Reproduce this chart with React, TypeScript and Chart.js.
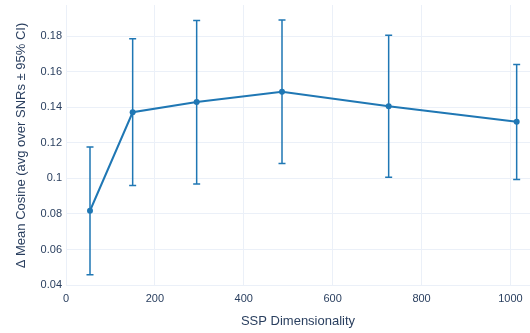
import React, { useEffect, useRef } from "react";
import { Chart, registerables } from "chart.js";

Chart.register(...registerables);

const dims = [54, 150, 294, 486, 726, 1014];
const meanDelta = [0.0818, 0.1372, 0.1429, 0.1487, 0.1406, 0.1318];
const ciLow = [0.0458, 0.096, 0.0969, 0.1084, 0.1007, 0.0994];
const ciHigh = [0.1176, 0.1785, 0.1888, 0.189, 0.1805, 0.164];
const xTicks = [0, 200, 400, 600, 800, 1000];
const yTicks = [0.04, 0.06, 0.08, 0.1, 0.12, 0.14, 0.16, 0.18];

const COLOR = "#1f77b4";
const TEXT = "#2a3f5f";
const GRID = "#ebf0f8";
const FONT = "'Liberation Sans', Arial, Helvetica, sans-serif";

const errorBars = {
  id: "errorBars",
  beforeDatasetsDraw(chart: any) {
    const { ctx, scales } = chart;
    const xs = scales.x;
    const ys = scales.y;
    ctx.save();
    ctx.strokeStyle = COLOR;
    ctx.lineWidth = 1.5;
    for (let i = 0; i < dims.length; i++) {
      const px = xs.getPixelForValue(dims[i]);
      const pLo = ys.getPixelForValue(ciLow[i]);
      const pHi = ys.getPixelForValue(ciHigh[i]);
      ctx.beginPath();
      ctx.moveTo(px, pLo);
      ctx.lineTo(px, pHi);
      ctx.moveTo(px - 3.5, pLo);
      ctx.lineTo(px + 3.5, pLo);
      ctx.moveTo(px - 3.5, pHi);
      ctx.lineTo(px + 3.5, pHi);
      ctx.stroke();
    }
    ctx.restore();
  },
};

export default function App() {
  const ref = useRef<HTMLCanvasElement | null>(null);
  useEffect(() => {
    if (!ref.current) return;
    const chart = new Chart(ref.current, {
      type: "line",
      data: {
        datasets: [
          {
            data: dims.map((d, i) => ({ x: d, y: meanDelta[i] })),
            borderColor: COLOR,
            backgroundColor: COLOR,
            borderWidth: 2,
            pointRadius: 3,
            pointBorderWidth: 0,
            tension: 0,
            clip: false,
          },
        ],
      },
      options: {
        animation: false,
        responsive: true,
        maintainAspectRatio: false,
        layout: { autoPadding: false, padding: { top: 5, right: 0, left: 0, bottom: 0 } },
        plugins: { legend: { display: false }, tooltip: { enabled: false } },
        scales: {
          x: {
            type: "linear",
            min: 0,
            max: 1044,
            afterBuildTicks: (s: any) => {
              s.ticks = xTicks.map((v) => ({ value: v }));
            },
            afterFit: (s: any) => {
              s.height = 47;
              s.paddingLeft = 0;
              s.paddingRight = 0;
            },
            grid: { color: GRID, lineWidth: 1, drawTicks: false },
            border: { display: false },
            ticks: {
              color: TEXT,
              font: { family: FONT, size: 11 },
              padding: 6,
              maxRotation: 0,
              callback: (v: any) => String(v),
            },
            title: {
              display: true,
              text: "SSP Dimensionality",
              color: TEXT,
              font: { family: FONT, size: 13 },
              padding: { top: 4, bottom: 4 },
            },
          },
          y: {
            type: "linear",
            min: 0.0395,
            max: 0.1975,
            afterBuildTicks: (s: any) => {
              s.ticks = yTicks.map((v) => ({ value: v }));
            },
            afterFit: (s: any) => {
              s.width = 66;
              s.paddingTop = 0;
              s.paddingBottom = 0;
            },
            grid: { color: GRID, lineWidth: 1, drawTicks: false },
            border: { display: false },
            ticks: {
              color: TEXT,
              font: { family: FONT, size: 11 },
              padding: 4,
              callback: (v: any) => String(Math.round(v * 100) / 100),
            },
            title: {
              display: true,
              text: "Δ Mean Cosine (avg over SNRs ± 95% CI)",
              color: TEXT,
              font: { family: FONT, size: 13 },
              padding: { top: 14, bottom: 4 },
            },
          },
        },
      },
      plugins: [errorBars],
    });
    return () => chart.destroy();
  }, []);
  return (
    <div style={{ position: "absolute", left: 0, top: 0, width: 530, height: 333, background: "#fff" }}>
      <canvas ref={ref} />
    </div>
  );
}
